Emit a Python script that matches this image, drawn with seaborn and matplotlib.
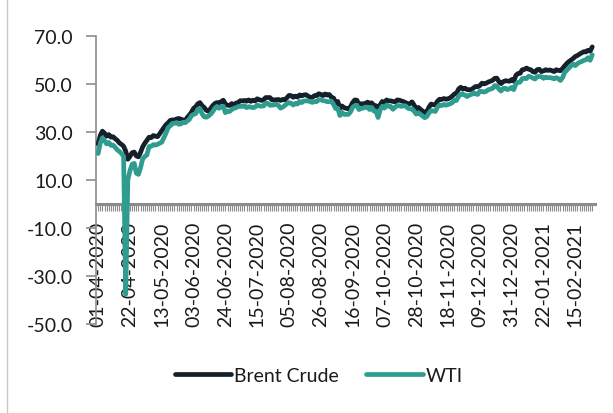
import numpy as np
import pandas as pd
import matplotlib
matplotlib.use("Agg")
import matplotlib.pyplot as plt
from matplotlib.lines import Line2D
import seaborn as sns

# Tick labels (one every 15 trading days)
tick_labels = ["01-04-2020", "22-04-2020", "13-05-2020", "03-06-2020", "24-06-2020",
               "15-07-2020", "05-08-2020", "26-08-2020", "16-09-2020", "07-10-2020",
               "28-10-2020", "18-11-2020", "09-12-2020", "31-12-2020", "22-01-2021",
               "15-02-2021"]

# Daily prices, USD/bbl
brent = [
    25.0, 28.5, 30.3, 29.5, 28.2, 28.9, 27.8, 28.0, 27.2, 26.5, 25.4, 24.8, 24.0, 22.0, 18.6,
    19.8, 21.3, 21.6, 20.0, 19.6, 21.5, 23.8, 25.3, 26.5, 27.8, 27.6, 28.5, 28.2, 28.0, 29.2, 30.5,
    31.8, 33.0, 33.8, 34.8, 35.0, 34.9, 35.4, 35.6, 35.3, 35.0, 34.6, 36.0, 37.0, 38.2, 39.8,
    40.5, 41.7, 42.2, 40.9, 40.2, 39.0, 38.6, 39.7, 40.9, 41.8, 42.2, 42.1, 42.6, 43.2, 41.6,
    41.1, 41.0, 41.8, 41.2, 42.0, 42.2, 43.0, 42.9, 43.1, 42.8, 43.3, 42.7, 43.2, 42.9, 43.8,
    43.4, 43.1, 43.3, 44.3, 44.3, 44.3, 43.3, 43.3, 43.4, 43.5, 43.1, 43.5, 43.3, 44.2, 45.2,
    45.1, 44.4, 44.9, 44.5, 45.4, 45.0, 45.4, 45.5, 44.9, 44.4, 44.4, 45.1, 45.1, 45.9, 45.6,
    45.1, 45.8, 45.3, 45.6, 44.4, 44.1, 42.1, 42.7, 39.8, 40.8, 40.1, 39.8, 39.6, 40.5, 42.2,
    43.3, 43.2, 41.4, 41.7, 41.7, 41.8, 42.4, 41.9, 42.1, 41.0, 40.9, 39.6, 41.3, 42.7, 41.9,
    43.3, 42.9, 42.9, 42.7, 42.5, 43.3, 43.2, 42.9, 42.6, 42.2, 41.5, 41.8, 42.5, 41.2, 39.1,
    40.2, 39.4, 38.7, 38.0, 38.5, 40.3, 41.6, 41.3, 41.2, 42.8, 43.6, 43.5, 43.9, 43.6, 43.8,
    44.2, 44.9, 45.8, 46.1, 47.9, 48.6, 47.8, 48.2, 47.6, 47.6, 47.6, 48.3, 48.9, 48.8, 49.3,
    50.3, 50.0, 50.3, 50.8, 51.1, 51.5, 52.3, 52.4, 50.9, 50.1, 50.9, 51.3, 51.2, 51.1, 51.8,
    51.1, 53.6, 54.3, 54.4, 55.9, 56.0, 56.6, 56.1, 55.9, 55.1, 54.8, 55.9, 56.1, 55.1, 55.4,
    55.9, 55.6, 55.8, 55.5, 55.1, 55.9, 55.6, 55.5, 56.4, 57.5, 58.5, 59.3, 59.9, 60.6, 61.4,
    61.8, 62.4, 62.9, 63.4, 63.3, 64.0, 63.6, 65.4,
]
wti = [
    21.0, 25.3, 27.5, 26.4, 25.0, 25.6, 24.4, 24.5, 23.6, 22.5, 21.9, 21.0, 19.8, -37.6, 10.0,
    13.8, 16.5, 16.9, 12.8, 12.3, 15.1, 18.8, 19.8, 20.4, 23.9, 24.0, 24.7, 24.5, 24.8, 25.3, 25.7,
    27.6, 29.5, 31.8, 32.5, 33.5, 33.6, 33.9, 33.2, 33.3, 34.0, 33.8, 34.5, 35.2, 36.8, 37.3,
    37.6, 39.4, 39.7, 37.5, 36.3, 36.1, 36.6, 37.3, 38.4, 39.8, 40.6, 39.8, 40.5, 40.7, 38.0,
    38.7, 38.5, 39.3, 39.8, 40.1, 40.5, 40.7, 40.6, 40.9, 40.1, 40.5, 40.3, 40.1, 40.3, 41.2,
    40.8, 40.7, 40.8, 41.9, 41.9, 41.1, 41.1, 41.3, 41.6, 41.0, 39.9, 40.3, 41.0, 41.7, 42.2,
    41.9, 41.2, 41.9, 41.6, 42.7, 42.2, 42.9, 42.9, 42.9, 42.6, 42.3, 42.6, 42.6, 43.4, 43.4,
    43.0, 42.9, 42.6, 42.6, 42.8, 41.4, 39.7, 39.8, 36.8, 38.1, 37.3, 37.3, 37.3, 38.3, 40.2,
    40.9, 41.1, 39.3, 39.8, 39.9, 40.3, 40.3, 39.3, 40.2, 38.7, 38.7, 36.0, 39.2, 40.7, 39.9,
    41.2, 40.6, 40.6, 39.4, 40.2, 41.0, 40.9, 40.6, 40.9, 40.8, 39.9, 39.6, 39.6, 38.6, 37.4,
    38.0, 37.3, 36.6, 35.9, 36.4, 37.9, 38.9, 38.7, 38.5, 40.3, 41.2, 41.0, 41.4, 41.1, 41.4,
    41.7, 42.2, 43.1, 43.1, 44.9, 45.7, 45.7, 45.3, 44.7, 45.3, 45.6, 46.3, 45.8, 45.6, 47.0,
    46.8, 46.6, 46.9, 47.6, 47.8, 48.1, 49.3, 49.1, 47.8, 47.0, 48.1, 48.2, 47.6, 48.0, 48.5,
    47.6, 50.0, 50.6, 50.8, 52.2, 52.3, 52.2, 53.2, 52.9, 52.4, 52.0, 53.0, 53.1, 53.0, 52.3,
    52.8, 52.6, 52.6, 52.4, 52.1, 52.6, 52.2, 51.4, 52.6, 54.8, 55.7, 56.6, 57.5, 58.2, 57.6,
    58.4, 59.0, 59.3, 59.8, 60.0, 60.9, 59.8, 62.1,
]
series_names = ["Brent Crude", "WTI"]
colors = ["#15202b", "#2e9d90"]

day = np.arange(len(brent))
df = pd.DataFrame({"day": np.concatenate([day, day]),
                   "price": brent + wti,
                   "series": [series_names[0]] * len(brent) + [series_names[1]] * len(wti)})

sns.set_style("white")
plt.rcParams["font.family"] = ["Lato", "DejaVu Sans"]

fig = plt.figure(figsize=(6.13, 4.14), dpi=100)
ax = fig.add_axes([0.157, 0.215, 0.814, 0.696])

sns.lineplot(data=df, x="day", y="price", hue="series", hue_order=series_names,
             palette=colors, linewidth=3.4, zorder=3, ax=ax,
             solid_capstyle="round", solid_joinstyle="round")

grey = "#8c8c8c"
txt = "#1a1a1a"
fs = 14
ax.set_ylim(-50, 70)
ax.set_yticks(range(-50, 71, 20))
ax.set_yticklabels([f"{v:.1f}" for v in range(-50, 71, 20)])
ax.set_xlim(-0.9, len(brent) + 0.4)
ax.set_xticks(day, minor=True)
ax.set_xticks(day[::15])
ax.set_xticklabels(tick_labels)
ax.set_xlabel("")
ax.set_ylabel("")

for s in ["top", "right"]:
    ax.spines[s].set_visible(False)
ax.spines["left"].set_color(grey)
ax.spines["left"].set_linewidth(1.2)
ax.spines["bottom"].set_position(("data", 0))
ax.spines["bottom"].set_color(grey)
ax.spines["bottom"].set_linewidth(2.2)

ax.tick_params(axis="y", direction="out", length=7, width=1.2, color=grey,
               labelsize=fs, labelcolor=txt, pad=10, left=True)
ax.tick_params(axis="x", which="both", direction="out", length=5, width=0.8,
               color=grey, bottom=True)
ax.tick_params(axis="x", which="major", labelsize=fs, labelcolor=txt, pad=7,
               labelrotation=90)

sns.move_legend(ax, "center", bbox_to_anchor=(0.52, 0.09), bbox_transform=fig.transFigure,
                ncol=2, frameon=False, title=None, fontsize=fs,
                handlelength=2.9, handletextpad=0.15, columnspacing=1.4)
for h in ax.get_legend().get_lines():
    h.set_linewidth(3.4)
    h.set_solid_capstyle("round")
for t in ax.get_legend().get_texts():
    t.set_color(txt)

# thin frame fragment on the left edge
fig.add_artist(Line2D([0.012, 0.012], [0, 1], transform=fig.transFigure,
                      color="#c8c8c8", linewidth=1))

fig.savefig("out.png", dpi=100)
